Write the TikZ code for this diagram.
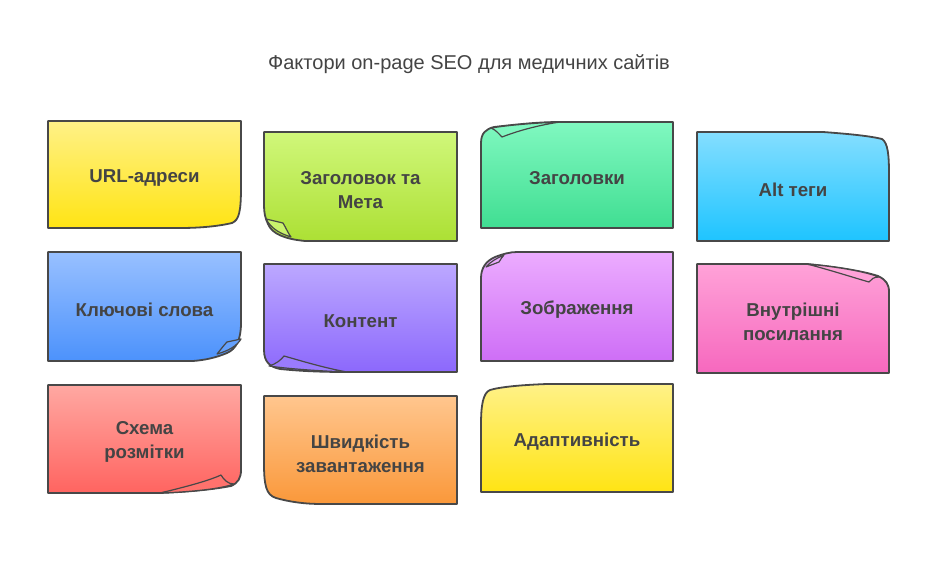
\documentclass[tikz,border=0pt]{standalone}
\usepackage{fontspec}
\setmainfont{Liberation Sans}
\definecolor{edge}{RGB}{72,72,72}
\definecolor{txt}{RGB}{68,68,68}
\definecolor{yT}{RGB}{255,241,135}\definecolor{yB}{RGB}{255,228,20}
\definecolor{gT}{RGB}{208,247,122}\definecolor{gB}{RGB}{172,224,52}
\definecolor{mT}{RGB}{128,248,192}\definecolor{mB}{RGB}{64,222,146}
\definecolor{cT}{RGB}{132,222,255}\definecolor{cB}{RGB}{30,196,255}
\definecolor{bT}{RGB}{152,192,255}\definecolor{bB}{RGB}{76,146,252}
\definecolor{vT}{RGB}{188,168,255}\definecolor{vB}{RGB}{140,104,252}
\definecolor{pT}{RGB}{236,172,255}\definecolor{pB}{RGB}{206,110,246}
\definecolor{kT}{RGB}{255,162,216}\definecolor{kB}{RGB}{246,104,190}
\definecolor{rT}{RGB}{255,168,162}\definecolor{rB}{RGB}{255,100,96}
\definecolor{oT}{RGB}{255,198,142}\definecolor{oB}{RGB}{250,152,58}
\tikzset{
  card/.style 2 args={draw=edge, line width=1.35pt, line join=round, top color=#1, bottom color=#2},
  foldtab/.style={draw=edge, line width=0.9pt, line join=round, fill=#1},
  lbl/.style={text=txt, font=\fontsize{14}{18}\selectfont\bfseries, align=center, yshift=-2.5pt},
  ttl/.style={text=txt, font=\fontsize{15}{18}\selectfont, anchor=base}
}
\begin{document}
\begin{tikzpicture}[x=0.75pt, y=-0.75pt]
\useasboundingbox (0,0) rectangle (938,578);
\fill[white] (0,0) rectangle (938,578);
\node[ttl] (title) at (469,69) {Фактори on-page SEO для медичних сайтів};
% 1 URL
\path[card={yT}{yB}] (48,121) -- (241,121) -- (241,187) .. controls (241,212) and (239,220) .. (232,223) .. controls (215,227) and (195,228) .. (180,228) -- (48,228) -- cycle;
\node[lbl] (url) at (144.5,174.5) {URL-адреси};
% 2 Заголовок та Мета
\path[card={gT}{gB}] (264,132) -- (457,132) -- (457,241) -- (305,241) .. controls (285,239) and (272,234) .. (268,224) .. controls (265,218) and (264,212) .. (264,205) -- cycle;
\path[foldtab={gT!80!gB}] (266,219) -- (283,223) .. controls (286,228) and (288,233) .. (291,237) .. controls (282,234) and (272,230) .. cycle;
\node[lbl] (meta) at (360.5,186.5) {Заголовок та\\Мета};
% 3 Заголовки
\path[card={mT}{mB}] (481,228) -- (481,143) .. controls (481,133) and (486,129) .. (494,127) .. controls (520,124) and (540,122) .. (560,122) -- (673,122) -- (673,228) -- cycle;
\path[foldtab={mT}] (491,128) .. controls (496,130) and (499,134) .. (502,137) .. controls (520,130) and (540,125) .. (560,122) .. controls (535,123) and (510,125) .. cycle;
\node[lbl] (headings) at (577,175) {Заголовки};
% 4 Alt теги
\path[card={cT}{cB}] (697,132) -- (823,132) .. controls (850,134) and (870,136) .. (882,139) .. controls (888,143) and (889,155) .. (889,175) -- (889,241) -- (697,241) -- cycle;
\node[lbl] (alt) at (793,186.5) {Alt теги};
% 5 Ключові слова
\path[card={bT}{bB}] (48,252) -- (241,252) -- (241,323) .. controls (241,340) and (236,349) .. (227,353) .. controls (215,358) and (205,360) .. (193,361) -- (48,361) -- cycle;
\path[foldtab={bT!30!bB}] (241,339) -- (227,342) .. controls (224,345) and (222,348) .. (217,354) .. controls (228,351) and (237,346) .. cycle;
\node[lbl] (keys) at (144.5,306.5) {Ключові слова};
% 6 Контент
\path[card={vT}{vB}] (264,264) -- (457,264) -- (457,372) -- (347,372) .. controls (320,372) and (300,371) .. (280,369) .. controls (270,367) and (264,362) .. (264,350) -- cycle;
\path[foldtab={vT!30!vB}] (269,366) .. controls (276,364) and (281,360) .. (284,356) .. controls (305,362) and (325,368) .. (347,372) .. controls (320,371) and (290,369) .. cycle;
\node[lbl] (content) at (360.5,318) {Контент};
% 7 Зображення
\path[card={pT}{pB}] (481,361) -- (481,278) .. controls (481,268) and (486,261) .. (495,257) .. controls (503,254) and (510,252) .. (517,252) -- (673,252) -- (673,361) -- cycle;
\path[foldtab={pT}] (486,267) -- (499,262) .. controls (501,259) and (502,257) .. (504,255) .. controls (497,258) and (490,262) .. cycle;
\node[lbl] (images) at (577,306.5) {Зображення};
% 8 Внутрішні посилання
\path[card={kT}{kB}] (697,264) -- (807,264) .. controls (840,267) and (866,272) .. (878,276) .. controls (886,280) and (889,284) .. (889,292) -- (889,373) -- (697,373) -- cycle;
\path[foldtab={kT}] (807,264) .. controls (830,270) and (855,278) .. (869,282) .. controls (871,279) and (874,277) .. (879,277) .. controls (866,272) and (840,267) .. cycle;
\node[lbl] (links) at (793,318.5) {Внутрішні\\посилання};
% 9 Схема розмітки
\path[card={rT}{rB}] (48,385) -- (241,385) -- (241,470) .. controls (241,478) and (238,483) .. (231,486) .. controls (210,490) and (185,492) .. (160,493) -- (48,493) -- cycle;
\path[foldtab={rT!20!rB}] (160,493) .. controls (185,487) and (208,481) .. (221,475) .. controls (224,480) and (228,484) .. (234,484) .. controls (220,489) and (190,492) .. cycle;
\node[lbl] (schema) at (144.5,439) {Схема\\розмітки};
% 10 Швидкість завантаження
\path[card={oT}{oB}] (264,396) -- (457,396) -- (457,504) -- (322,504) .. controls (305,504) and (290,502) .. (276,498) .. controls (266,495) and (264,485) .. (264,463) -- cycle;
\node[lbl] (speed) at (360.5,450) {Швидкість\\завантаження};
% 11 Адаптивність
\path[card={yT}{yB}] (481,492) -- (481,425) .. controls (481,405) and (483,393) .. (490,390) .. controls (500,387) and (520,385) .. (547,384) -- (673,384) -- (673,492) -- cycle;
\node[lbl] (adaptive) at (577,438) {Адаптивність};
\end{tikzpicture}
\end{document}
